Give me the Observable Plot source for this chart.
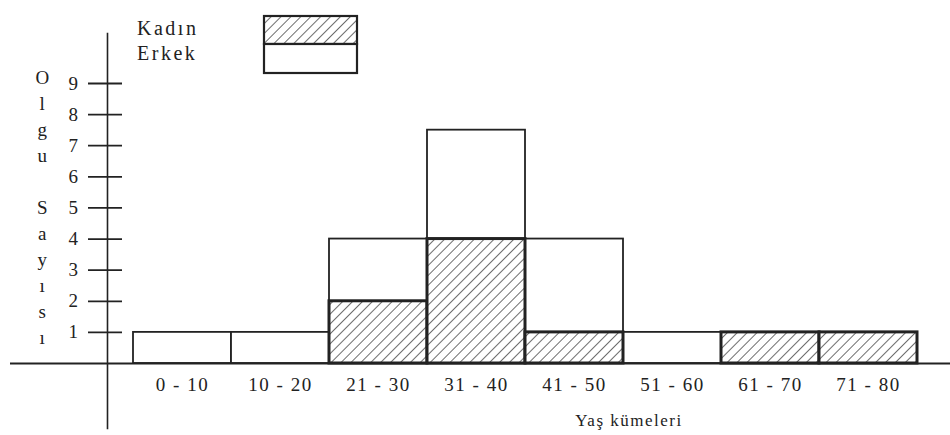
<!DOCTYPE html>
<html>
<head>
<meta charset="utf-8">
<script src="https://cdn.jsdelivr.net/npm/d3@7"></script>
<script src="https://cdn.jsdelivr.net/npm/@observablehq/plot@0.6"></script>
<style>
  body { margin: 0; background: #fff; }
  #wrap { position: relative; width: 950px; height: 435px; font-family: "Liberation Serif", serif; color: #222; }
  #wrap svg text { letter-spacing: 1.5px; }
  .overlay { position: absolute; left: 0; top: 0; pointer-events: none; }
</style>
</head>
<body>
<div id="wrap"></div>
<script>
// ---- data ----
const ageGroups = ["0 - 10", "10 - 20", "21 - 30", "31 - 40", "41 - 50", "51 - 60", "61 - 70", "71 - 80"];
const kadin = [0, 0, 2, 4, 1, 0, 1, 1];          // hatched bars
const erkek = [1, 1, 2, 3.5, 3, 1, 0, 0];        // white part stacked above
const yTicks = [1, 2, 3, 4, 5, 6, 7, 8, 9];
const legendLabels = ["Kadın", "Erkek"];
const yTitle = "Olgu Sayısı";
const xTitle = "Yaş kümeleri";

const rows = ageGroups.map((g, i) => ({group: g, kadin: kadin[i], erkek: erkek[i], total: kadin[i] + erkek[i]}));
const ink = "#222";

const svg = Plot.plot({
  width: 950,
  height: 435,
  marginLeft: 107,
  marginRight: 0,
  marginTop: 33,
  marginBottom: 7,
  style: {fontFamily: "Liberation Serif, serif", fontSize: "20px", color: "#222", background: "white"},
  x: {type: "band", domain: ageGroups, range: [132, 918], padding: 0, label: null},
  y: {domain: [0, 9], range: [363, 83], label: null},
  marks: [
    Plot.frame({anchor: "left", stroke: ink, strokeWidth: 1.6}),
    Plot.barY(rows.filter(d => d.total > 0), {x: "group", y1: 0, y2: "total", fill: "white", stroke: ink, strokeWidth: 1.8, inset: 0}),
    Plot.barY(rows.filter(d => d.kadin > 0), {x: "group", y1: 0, y2: "kadin", fill: "url(#hatch)", stroke: ink, strokeWidth: 3, inset: 0}),
    Plot.ruleY([0], {stroke: ink, strokeWidth: 1.8, insetLeft: -97}),
    Plot.axisY(yTicks, {anchor: "left", tickSize: 34, dx: 15, tickPadding: 9, strokeWidth: 1.8, color: "#222", label: null, fontSize: 19}),
    Plot.axisX({anchor: "bottom", tickSize: 0, tickPadding: 0, dy: -51, label: null, color: "#222", fontSize: 19}),
    Plot.text([xTitle], {frameAnchor: "bottom", dx: 100, dy: -8, lineAnchor: "middle", fontSize: 17, fill: "#222"})
  ]
});

// hatch pattern definition
const defs = d3.select(svg).insert("defs", ":first-child");
const pat = defs.append("pattern")
  .attr("id", "hatch").attr("patternUnits", "userSpaceOnUse")
  .attr("width", 7).attr("height", 7).attr("patternTransform", "rotate(45)");
pat.append("rect").attr("width", 7).attr("height", 7).attr("fill", "white");
pat.append("line").attr("x1", 0).attr("y1", 0).attr("x2", 0).attr("y2", 7)
  .attr("stroke", "#2e2e2e").attr("stroke-width", 1.4);

const wrap = document.getElementById("wrap");
wrap.appendChild(svg);

// overlay: legend and vertical y title
const ov = d3.select(wrap).append("svg")
  .attr("class", "overlay").attr("width", 950).attr("height", 435)
  .style("font-family", "Liberation Serif, serif").style("font-size", "20px");

// legend swatches
const legendSwatch = [
  {fill: "url(#hatch)", y: 16, h: 28, sw: 2.2},
  {fill: "white", y: 44, h: 29, sw: 2.2}
];
ov.selectAll("rect.sw").data(legendSwatch).join("rect")
  .attr("x", 264).attr("y", d => d.y).attr("width", 93).attr("height", d => d.h)
  .attr("fill", d => d.fill).attr("stroke", ink).attr("stroke-width", d => d.sw);

ov.selectAll("text.leg").data(legendLabels).join("text")
  .attr("x", 137).attr("y", (d, i) => 35 + i * 25)
  .attr("fill", "#222").style("letter-spacing", "2.5px")
  .text(d => d);

// vertical stacked letters
const chars = Array.from(yTitle);
ov.selectAll("text.yt").data(chars).join("text")
  .attr("x", 43).attr("y", (d, i) => 77 + i * 26)
  .attr("text-anchor", "middle").attr("dominant-baseline", "central")
  .attr("fill", "#222").style("font-size", "19px")
  .text(d => d);
</script>
</body>
</html>
